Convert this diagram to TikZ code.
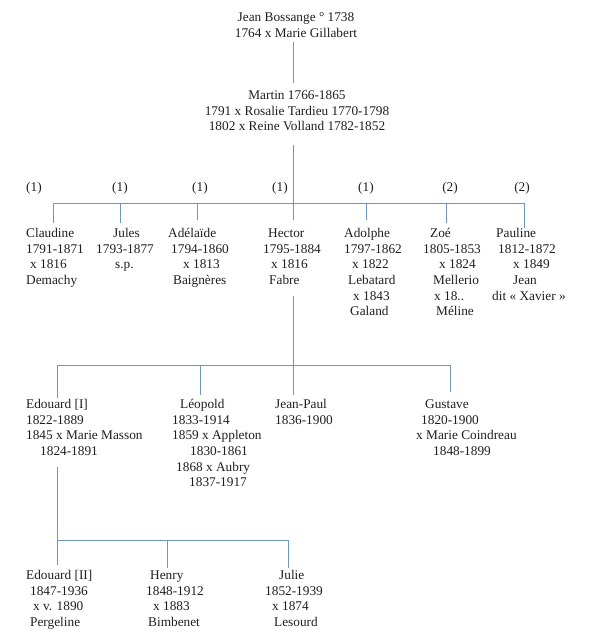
\documentclass[tikz,border=0pt]{standalone}
\usepackage{fontspec}
\setmainfont{Liberation Serif}
\usetikzlibrary{calc}
\definecolor{treeblue}{RGB}{110,152,187}
\definecolor{inkgray}{RGB}{30,30,30}
\newcommand{\pad}[1]{\hspace*{#1pt}}

\begin{document}
\begin{tikzpicture}[
  x=1pt, y=-1pt,
  person/.style={inner sep=0pt, anchor=base west, align=left, text=inkgray,
                 font=\fontsize{13.3}{15.7}\selectfont},
  elder/.style={person, anchor=base, align=center},
  side/.style={inner sep=0pt, text=inkgray, font=\fontsize{13.3}{15.7}\selectfont},
  link/.style={draw=treeblue, line width=0.9pt}
]
  \useasboundingbox (0,0) rectangle (593,640);

  % base anchor = baseline of the last line
  \node[elder] (jean) at (296,37) {Jean Bossange ° 1738\\1764 x Marie Gillabert};
  \node[elder] (martin) at (297,130.7) {Martin 1766-1865\\1791 x Rosalie Tardieu 1770-1798\\1802 x Reine Volland 1782-1852};

  \foreach \x/\k [count=\i] in {34/1,120/1,200/1,280/1,366/1,450/2,522/2}
    \node[side] (s\i) at (\x,188) {(\k)};

  \node[person] (claudine) at (26,284.4) {Claudine\\1791-1871\\\pad{4}x 1816\\Demachy};
  \node[person] (jules) at (96,268.7) {\pad{17}Jules\\1793-1877\\\pad{19}s.p.};
  \node[person] (adelaide) at (168,284.4) {Adélaïde\\\pad{3}1794-1860\\\pad{15}x 1813\\\pad{5}Baignères};
  \node[person] (hector) at (263,284.4) {\pad{5}Hector\\1795-1884\\\pad{8}x 1816\\\pad{6}Fabre};
  \node[person] (adolphe) at (344,315.8) {Adolphe\\1797-1862\\\pad{8}x 1822\\\pad{4}Lebatard\\\pad{9}x 1843\\\pad{6}Galand};
  \node[person] (zoe) at (423,315.8) {\pad{7}Zoé\\1805-1853\\\pad{16}x 1824\\\pad{10}Mellerio\\\pad{11}x 18..\\\pad{13}Méline};
  \node[person] (pauline) at (492,300.1) {\pad{4}Pauline\\\pad{6}1812-1872\\\pad{21}x 1849\\\pad{21}Jean\\dit « Xavier »};

  \node[person] (edouard) at (26,455.4) {Edouard [I]\\1822-1889\\1845 x Marie Masson\\\pad{14}1824-1891};
  \node[person] (leopold) at (172,486.8) {\pad{8}Léopold\\1833-1914\\1859 x Appleton\\\pad{18}1830-1861\\\pad{4}1868 x Aubry\\\pad{17}1837-1917};
  \node[person] (jeanpaul) at (275,424) {Jean-Paul\\1836-1900};
  \node[person] (gustave) at (416,455.4) {\pad{9}Gustave\\\pad{5}1820-1900\\x Marie Coindreau\\\pad{17}1848-1899};

  \node[person] (edouardii) at (26,626.4) {Edouard [II]\\\pad{4}1847-1936\\\pad{7}x v. 1890\\\pad{4}Pergeline};
  \node[person] (henry) at (146,626.4) {\pad{4}Henry\\1848-1912\\\pad{7}x 1883\\\pad{2}Bimbenet};
  \node[person] (julie) at (265,626.4) {\pad{14}Julie\\1852-1939\\\pad{7}x 1874\\\pad{9}Lesourd};

  \foreach \n/\x in {claudine/53,jules/120,adelaide/197,hector/293,adolphe/366,zoe/446,pauline/524}
    \coordinate (up-\n) at (\x,203);
  \foreach \n/\x in {edouard/57.5,leopold/200,gustave/450}
    \coordinate (up-\n) at (\x,365);
  \foreach \n/\x in {edouardii/57.5,henry/167,julie/288}
    \coordinate (up-\n) at (\x,540);

  \draw[link, shorten <=4.5pt, shorten >=7pt] (jean.south -| up-hector) -- (martin.north -| up-hector);
  \draw[link, shorten <=14.3pt] (martin.south -| up-hector) -- (up-hector);
  \draw[link] (up-claudine) -- (up-pauline);
  \foreach \n/\s in {claudine/5,jules/5,adelaide/8,hector/8,adolphe/8,zoe/5,pauline/0}
    \draw[link, shorten >=\s pt] (up-\n) -- (up-\n |- \n.north);

  \draw[link, shorten <=11.6pt, shorten >=4pt] (hector.south -| up-hector) -- (jeanpaul.north -| up-hector);
  \draw[link] (up-edouard) -- (up-gustave);
  \foreach \n/\s in {edouard/1,leopold/4,gustave/7}
    \draw[link, shorten >=\s pt] (up-\n) -- (up-\n |- \n.north);

  \draw[link, shorten <=11.6pt] (edouard.south -| up-edouardii) -- (up-edouardii);
  \draw[link] (up-edouardii) -- (up-julie);
  \foreach \n/\s in {edouardii/5,henry/2.5,julie/2}
    \draw[link, shorten >=\s pt] (up-\n) -- (up-\n |- \n.north);
\end{tikzpicture}
\end{document}
